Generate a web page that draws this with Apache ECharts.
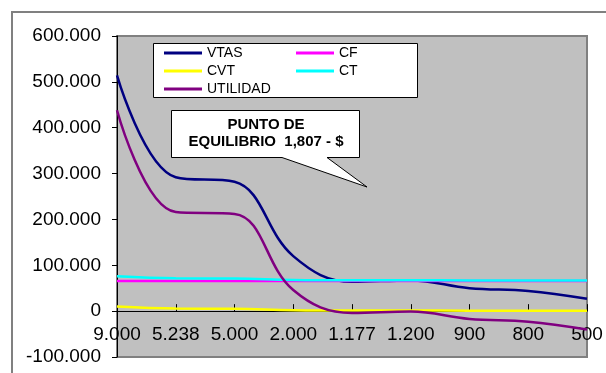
<!DOCTYPE html>
<html>
<head>
<meta charset="utf-8">
<script src="https://cdn.jsdelivr.net/npm/echarts@6/dist/echarts.min.js"></script>
<style>
html,body{margin:0;padding:0;background:#fff;}
#chart{width:606px;height:373px;}
</style>
</head>
<body>
<div id="chart"></div>
<script>
// ---- data ----
const categories = ['9.000', '5.238', '5.000', '2.000', '1.177', '1.200', '900', '800', '500'];
const vtas     = [514000, 292000, 282000, 120000, 64000, 67000, 50000, 44000, 27000];
const cf       = [66000, 66000, 66000, 66000, 66000, 66000, 66000, 66000, 66000];
const cvt      = [10000, 5500, 5000, 2000, 1300, 1300, 1000, 900, 600];
const ct       = [76000, 71500, 71000, 68000, 67300, 67300, 67000, 66900, 66600];
const utilidad = [438000, 216000, 212000, 46000, -4000, -1000, -17000, -23000, -40000];
const yMin = -100000, yMax = 600000, yStep = 100000;
const calloutLines = ['PUNTO DE', 'EQUILIBRIO  1,807 - $'];

function fmt(v) {
  const neg = v < 0;
  let s = String(Math.abs(Math.round(v)));
  s = s.replace(/\B(?=(\d{3})+(?!\d))/g, '.');
  return (neg ? '-' : '') + s;
}

const FONT = 'Liberation Sans, Arial, sans-serif';
const chart = echarts.init(document.getElementById('chart'), null, {renderer: 'canvas'});

function lineSeries(name, data, color, width) {
  return {
    name: name, type: 'line', data: data, smooth: 0.4,
    symbol: 'none', showSymbol: false,
    lineStyle: {color: color, width: width},
    itemStyle: {color: color},
    z: 2
  };
}

const gridTop = 36, gridBottom = 16, chartH = 373;
const plotH = chartH - gridTop - gridBottom;
const zeroOffset = plotH * (0 - yMin) / (yMax - yMin);

const option = {
  animation: false,
  backgroundColor: '#ffffff',
  grid: {
    left: 117, right: 19, top: gridTop, bottom: gridBottom,
    containLabel: false, outerBoundsMode: 'none',
    show: true, backgroundColor: '#c0c0c0', borderColor: '#808080', borderWidth: 2
  },
  xAxis: [
    {
      type: 'category', data: categories, boundaryGap: false,
      axisLine: {onZero: true, lineStyle: {color: '#000', width: 1}},
      axisTick: {show: true, inside: true, length: 7, alignWithLabel: true, lineStyle: {color: '#000'}},
      axisLabel: {show: false},
      splitLine: {show: false}
    },
    {
      type: 'category', data: categories, boundaryGap: false, position: 'bottom',
      offset: -zeroOffset,
      axisLine: {show: false, onZero: false},
      axisTick: {show: false},
      axisLabel: {interval: 0, margin: 14, color: '#000', fontSize: 19, fontFamily: FONT,
                  showMinLabel: true, showMaxLabel: true, hideOverlap: false},
      splitLine: {show: false}
    }
  ],
  yAxis: {
    type: 'value', min: yMin, max: yMax, interval: yStep,
    axisLine: {show: true, onZero: false, lineStyle: {color: '#000', width: 1}},
    axisTick: {show: true, length: 5, lineStyle: {color: '#000'}},
    axisLabel: {margin: 16, color: '#000', fontSize: 19, fontFamily: FONT, formatter: fmt},
    splitLine: {show: false}
  },
  legend: [
    {
      left: 164, top: 44, orient: 'vertical', padding: 0, itemGap: 0,
      itemWidth: 38, itemHeight: 3, icon: 'rect', z: 110,
      data: ['VTAS', 'CVT', 'UTILIDAD'],
      textStyle: {fontSize: 14, fontFamily: FONT, color: '#000', lineHeight: 18}
    },
    {
      left: 296, top: 44, orient: 'vertical', padding: 0, itemGap: 0,
      itemWidth: 38, itemHeight: 3, icon: 'rect', z: 110,
      data: ['CF', 'CT'],
      textStyle: {fontSize: 14, fontFamily: FONT, color: '#000', lineHeight: 18}
    }
  ],
  series: [
    lineSeries('VTAS', vtas, '#000080', 2.5),
    lineSeries('CF', cf, '#ff00ff', 2.5),
    lineSeries('CVT', cvt, '#ffff00', 2.5),
    lineSeries('CT', ct, '#00ffff', 2.5),
    lineSeries('UTILIDAD', utilidad, '#800080', 2.5)
  ],
  graphic: [
    {type: 'rect', z: 1000, silent: true,
     shape: {x: 12, y: 12, width: 620, height: 420},
     style: {fill: 'none', stroke: '#808080', lineWidth: 2}},
    {type: 'rect', z: 105, silent: true,
     shape: {x: 153.5, y: 43.5, width: 264, height: 54},
     style: {fill: '#ffffff', stroke: '#000', lineWidth: 1}},
    {type: 'polygon', z: 105, silent: true,
     shape: {points: [[171.5,110.5],[359.5,110.5],[359.5,157.5],[327,157.5],[367,187],[282,157.5],[171.5,157.5]]},
     style: {fill: '#ffffff', stroke: '#000', lineWidth: 1}},
    {type: 'text', z: 106, silent: true, x: 266, y: 125,
     style: {text: calloutLines[0], fill: '#000', font: 'bold 15px ' + FONT, textAlign: 'center', textVerticalAlign: 'middle'}},
    {type: 'text', z: 106, silent: true, x: 266, y: 142,
     style: {text: calloutLines[1], fill: '#000', font: 'bold 15px ' + FONT, textAlign: 'center', textVerticalAlign: 'middle'}}
  ]
};
chart.setOption(option);
</script>
</body>
</html>
